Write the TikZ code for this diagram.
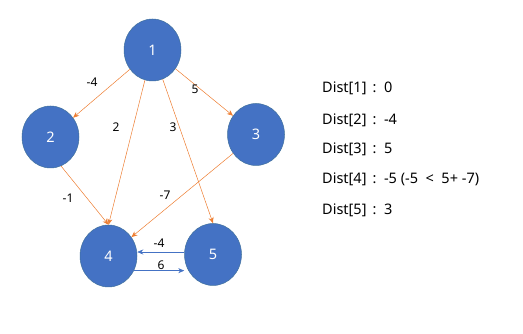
\documentclass[tikz,border=0pt]{standalone}
\usepackage{fontspec}
\setmainfont{Noto Sans}
\usetikzlibrary{shapes.geometric,arrows.meta}
\definecolor{nodeblue}{HTML}{4472C4}
\definecolor{nodeedge}{HTML}{41719C}
\definecolor{edgeorange}{HTML}{ED7D31}
\tikzset{
  vert/.style={ellipse, fill=nodeblue, draw=nodeedge, line width=0.5pt, minimum width=57pt, minimum height=62pt, inner sep=0pt, text=white, font=\fontsize{14.5}{16}\selectfont},
  oedge/.style={draw=edgeorange, line width=0.5pt, -{Stealth[length=6pt,width=5pt]}},
  bedge/.style={draw=nodeblue, line width=0.5pt, -{Stealth[length=6pt,width=5pt]}},
  wlabel/.style={font=\fontsize{12}{14}\selectfont, inner sep=1pt},
  distline/.style={anchor=west, font=\fontsize{14.5}{16}\selectfont, inner sep=0pt}
}
\begin{document}
\begin{tikzpicture}[x=1pt,y=-1pt]
\useasboundingbox (0,0) rectangle (523,334);
\node[vert] (n1) at (152.5,50) {1};
\node[vert] (n2) at (50.5,137) {2};
\node[vert] (n3) at (256,134.5) {3};
\node[vert] (n4) at (108.5,256) {4};
\node[vert] (n5) at (213,254.5) {5};

\draw[oedge] (n1) -- (n2);
\draw[oedge] (n1) -- (n3);
\draw[oedge] (n1) -- (n4.north);
\draw[oedge] (n1) -- (n5.north);
\draw[oedge] (n2.-70) -- (n4.north);
\draw[oedge] (n3) -- (n4);
\draw[bedge] (n5.175) -- (n5.175 -| n4.east);
\draw[bedge] (n4.-30) -- (n4.-30 -| n5.west);

\node[wlabel] (l12) at (92,82) {-4};
\node[wlabel] (l14) at (116,127) {2};
\node[wlabel] (l15) at (173,127) {3};
\node[wlabel] (l13) at (195,89) {5};
\node[wlabel] (l24) at (68,198) {-1};
\node[wlabel] (l34) at (165,195) {-7};
\node[wlabel] (l54) at (159,243) {-4};
\node[wlabel] (l45) at (161,265) {6};

\node[distline] (d1) at (322,88) {Dist[1] \,:\, 0};
\node[distline] (d2) at (322,120) {Dist[2] \,:\, -4};
\node[distline] (d3) at (322,149) {Dist[3] \,:\, 5};
\node[distline] (d4) at (322,179) {Dist[4] \,:\, -5 (-5 \ <\ \ 5+ -7)};
\node[distline] (d5) at (322,210) {Dist[5] \,:\, 3};
\end{tikzpicture}
\end{document}
